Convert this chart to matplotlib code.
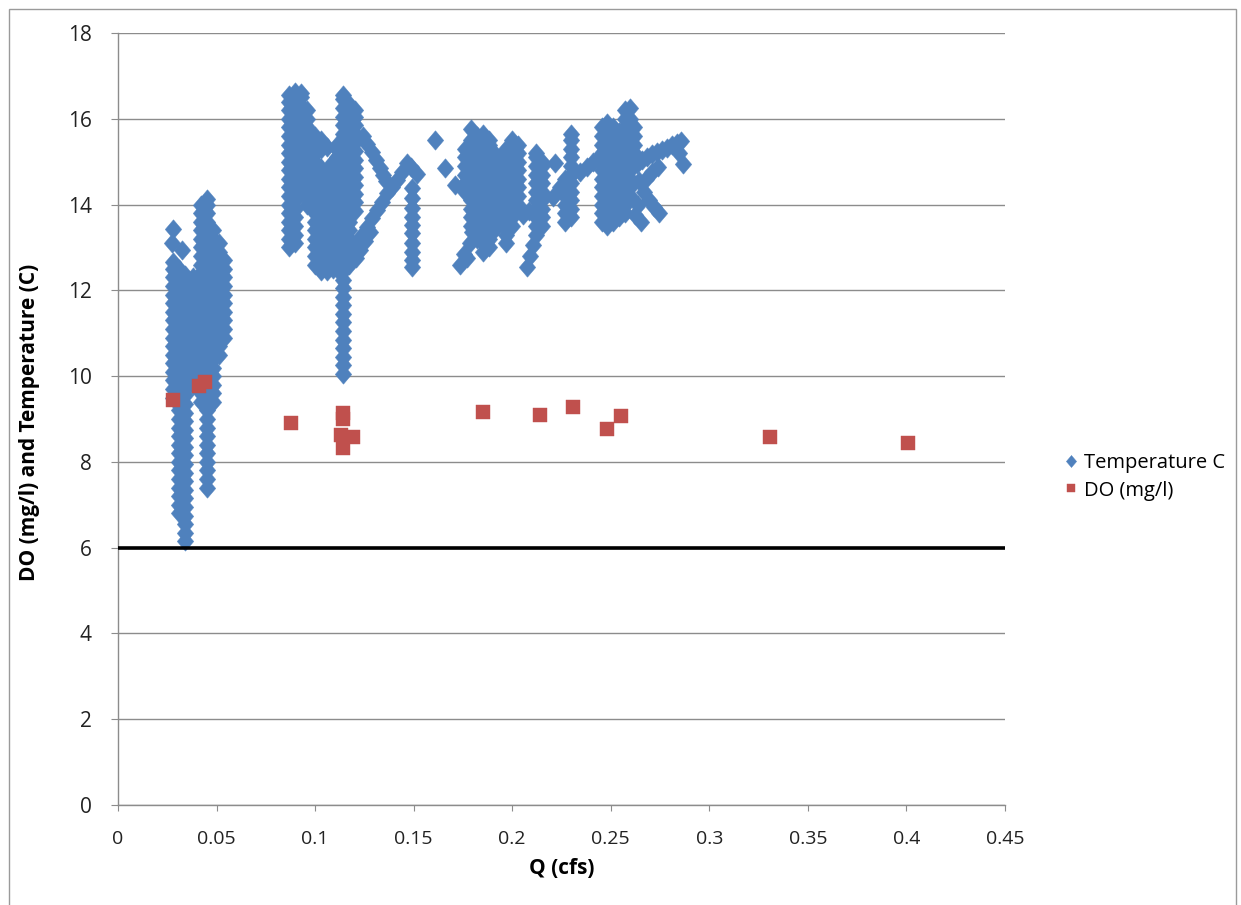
import matplotlib
matplotlib.use("Agg")
import matplotlib.pyplot as plt
from matplotlib.patches import Rectangle

# temperature readings grouped by flow (Q is logged in coarse steps)
low_q = [0.028, 0.031, 0.034, 0.038, 0.042, 0.045, 0.048, 0.051, 0.054]
low_temps = [
    [9.5, 9.7, 9.9, 10.1, 10.3, 10.5, 10.7, 10.9, 11.1, 11.3, 11.5, 11.7, 11.9, 12.1, 12.3, 12.5, 12.65],
    [6.8, 7.0, 7.2, 7.4, 7.6, 7.8, 8.0, 8.2, 8.4, 8.6, 8.8, 9.0, 9.2, 9.4, 9.6, 9.8, 10.0, 10.2, 10.4,
     10.6, 10.8, 11.0, 11.2, 11.4, 11.6, 11.8, 12.0, 12.2, 12.4, 12.5],
    [6.15, 6.35, 6.55, 6.75, 6.95, 7.15, 7.35, 7.55, 7.75, 7.95, 8.15, 8.35, 8.55, 8.75, 8.95, 9.15,
     9.35, 9.55, 9.75, 9.95, 10.15, 10.35, 10.55, 10.75, 10.95, 11.15, 11.35, 11.55, 11.75, 11.95,
     12.15, 12.35],
    [9.8, 10.0, 10.2, 10.4, 10.6, 10.8, 11.0, 11.2, 11.4, 11.6, 11.8, 12.0, 12.2, 12.3],
    [9.4, 9.6, 9.8, 10.0, 10.2, 10.4, 10.6, 10.8, 11.0, 11.2, 11.4, 11.6, 11.8, 12.0, 12.2, 12.4, 12.6,
     12.8, 13.0, 13.2, 13.4, 13.6, 13.8, 14.0],
    [7.4, 7.6, 7.8, 8.0, 8.2, 8.4, 8.6, 8.8, 9.0, 9.2, 9.4, 9.6, 9.8, 10.0, 10.2, 10.4, 10.6, 10.8,
     11.0, 11.2, 11.4, 11.6, 11.8, 12.0, 12.2, 12.4, 12.6, 12.8, 13.0, 13.2, 13.4, 13.6, 13.8, 14.0, 14.12],
    [9.4, 9.6, 9.8, 10.0, 10.2, 10.4, 10.6, 10.8, 11.0, 11.2, 11.4, 11.6, 11.8, 12.0, 12.2, 12.4, 12.6,
     12.8, 13.0, 13.2, 13.4],
    [10.5, 10.7, 10.9, 11.1, 11.3, 11.5, 11.7, 11.9, 12.1, 12.3, 12.5, 12.7, 12.9, 13.1],
    [10.9, 11.1, 11.3, 11.5, 11.7, 11.9, 12.1, 12.3, 12.5, 12.7],
]
low_extra_q = [0.0272, 0.0277, 0.0326]
low_extra_temps = [13.1, 13.42, 12.95]

mid_q = [0.087, 0.090, 0.093, 0.096, 0.100, 0.103, 0.106, 0.109, 0.111, 0.114, 0.117, 0.120]
mid_temps = [
    [13.0, 13.2, 13.4, 13.6, 13.8, 14.0, 14.2, 14.4, 14.6, 14.8, 15.0, 15.2, 15.4, 15.6, 15.8, 16.0,
     16.2, 16.4, 16.55],
    [13.1, 13.3, 13.5, 13.7, 13.9, 14.1, 14.3, 14.5, 14.7, 14.9, 15.1, 15.3, 15.5, 15.7, 15.9, 16.1,
     16.3, 16.5, 16.62],
    [14.3, 14.5, 14.7, 14.9, 15.1, 15.3, 15.5, 15.7, 15.9, 16.1, 16.3, 16.5, 16.6],
    [14.0, 14.2, 14.4, 14.6, 14.8, 15.0, 15.2, 15.4, 15.6, 15.8, 16.0, 16.2],
    [12.6, 12.8, 13.0, 13.2, 13.4, 13.6, 13.8, 14.0, 14.2, 14.4, 14.6, 14.8, 15.0, 15.2, 15.4, 15.6],
    [12.45, 12.65, 12.85, 13.05, 13.25, 13.45, 13.65, 13.85, 14.05, 14.25, 14.45, 14.65, 14.85, 15.3, 15.5],
    [12.45, 12.65, 12.85, 13.05, 13.25, 13.45, 13.65, 13.85, 14.05, 14.25, 14.45, 14.65, 14.8, 15.35],
    [12.5, 12.7, 12.9, 13.1, 13.3, 13.5, 13.7, 13.9, 14.1, 14.3, 14.5, 14.7, 14.9, 15.0],
    [12.5, 12.7, 12.9, 13.1, 13.3, 13.5, 13.7, 13.9, 14.1, 14.3, 14.5, 14.7, 14.9, 15.1, 15.3, 15.4],
    [10.05, 10.25, 10.45, 10.65, 10.85, 11.05, 11.25, 11.45, 11.65, 11.85, 12.05, 12.25, 12.45, 12.65,
     12.85, 13.05, 13.25, 13.45, 13.65, 13.85, 14.05, 14.25, 14.45, 14.65, 14.85, 15.05, 15.25, 15.45,
     15.65, 15.85, 16.05, 16.25, 16.45, 16.55],
    [12.6, 12.8, 13.0, 13.2, 13.4, 13.6, 13.8, 14.0, 14.2, 14.4, 14.6, 14.8, 15.0, 15.2, 15.4, 15.6,
     15.8, 16.0, 16.2, 16.35],
    [13.85, 14.05, 14.25, 14.45, 14.65, 14.85, 15.05, 15.25, 15.45, 15.65, 15.85, 16.05, 16.2],
]
mid_extra_q = [0.1185, 0.121, 0.1236, 0.1261, 0.1287, 0.1312, 0.1337, 0.1363, 0.1388, 0.1413, 0.1439,
               0.1464, 0.1489, 0.1515, 0.1205, 0.123, 0.1255, 0.128,
               0.1244, 0.1264, 0.1287, 0.1308, 0.1329, 0.1345, 0.1362,
               0.149, 0.149, 0.149, 0.149, 0.149, 0.149, 0.149, 0.149, 0.149, 0.149,
               0.1607, 0.1658, 0.1709]
mid_extra_temps = [12.9, 13.1, 13.29, 13.48, 13.68, 13.87, 14.06, 14.26, 14.41, 14.57, 14.76,
                   14.96, 14.88, 14.72, 12.75, 12.95, 13.15, 13.35,
                   15.6, 15.42, 15.22, 15.03, 14.85, 14.7, 14.55,
                   14.38, 14.15, 13.92, 13.71, 13.52, 13.33, 13.1, 12.89, 12.7, 12.55,
                   15.5, 14.86, 14.45]

high_q = [0.176, 0.179, 0.182, 0.185, 0.188, 0.191, 0.194, 0.197, 0.200, 0.203, 0.212, 0.215,
          0.227, 0.230, 0.2455, 0.248, 0.251, 0.254, 0.257, 0.2595, 0.262]
high_temps = [
    [14.3, 14.5, 14.7, 14.9, 15.1, 15.3],
    [13.5, 13.7, 13.9, 14.1, 14.3, 14.5, 14.7, 14.9, 15.1, 15.3, 15.5, 15.75],
    [13.2, 13.4, 13.6, 13.8, 14.0, 14.2, 14.4, 14.6, 14.8, 15.0, 15.2, 15.4, 15.6],
    [12.9, 13.1, 13.3, 13.5, 13.7, 13.9, 14.1, 14.3, 14.5, 14.7, 14.9, 15.1, 15.3, 15.5, 15.65],
    [13.0, 13.2, 13.4, 13.6, 13.8, 14.0, 14.2, 14.4, 14.6, 14.8, 15.0, 15.2, 15.4, 15.5],
    [13.4, 13.6, 13.8, 14.0, 14.2, 14.4, 14.6, 14.8, 15.0, 15.2],
    [13.6, 13.8, 14.0, 14.2, 14.4, 14.6, 14.8, 15.0],
    [13.1, 13.3, 13.5, 13.7, 13.9, 14.1, 14.3, 14.5, 14.7, 14.9, 15.1, 15.3],
    [13.5, 13.7, 13.9, 14.1, 14.3, 14.5, 14.7, 14.9, 15.1, 15.3, 15.5],
    [14.0, 14.2, 14.4, 14.6, 14.8, 15.0, 15.2, 15.4],
    [13.3, 13.5, 13.7, 13.9, 14.1, 14.3, 14.5, 14.7, 14.9, 15.1, 15.2],
    [13.5, 13.7, 13.9, 14.1, 14.3, 14.5, 14.7, 14.9, 15.0],
    [13.6, 13.8, 14.0, 14.2, 14.4, 14.6],
    [13.7, 13.9, 14.1, 14.3, 14.5, 14.7, 14.9, 15.1, 15.3, 15.5, 15.65],
    [13.6, 13.8, 14.0, 14.2, 14.4, 14.6, 14.8, 15.0, 15.2, 15.4, 15.6, 15.8],
    [13.5, 13.7, 13.9, 14.1, 14.3, 14.5, 14.7, 14.9, 15.1, 15.3, 15.5, 15.7, 15.9],
    [13.6, 13.8, 14.0, 14.2, 14.4, 14.6, 14.8, 15.0, 15.2, 15.4, 15.6, 15.8],
    [13.7, 13.9, 14.1, 14.3, 14.5, 14.7, 14.9, 15.1, 15.3, 15.5, 15.7],
    [13.8, 14.0, 14.2, 14.4, 14.6, 14.8, 15.0, 15.2, 15.4, 15.6, 15.8, 16.0, 16.2],
    [14.2, 14.4, 14.6, 14.8, 15.0, 15.2, 15.4, 15.6, 15.8, 16.0, 16.25],
    [15.0, 15.2, 15.4, 15.6, 15.8],
]
high_extra_q = [0.1735, 0.1755, 0.177, 0.1785, 0.1795,
                0.2075, 0.209, 0.2105, 0.2055, 0.2085,
                0.2207, 0.2241, 0.2216, 0.2343, 0.2377, 0.241, 0.2444,
                0.2635, 0.266, 0.2685, 0.271, 0.2735, 0.276, 0.2785, 0.281, 0.2835, 0.2855, 0.2845, 0.2867,
                0.2645, 0.267, 0.2695, 0.272, 0.2745, 0.264, 0.2625, 0.2655, 0.268, 0.271, 0.274]
high_extra_temps = [12.6, 12.85, 12.75, 13.1, 13.35,
                    12.55, 12.8, 13.05, 13.75, 13.85,
                    14.18, 14.41, 14.96, 14.76, 14.88, 15.0, 15.11,
                    14.95, 15.05, 15.1, 15.17, 15.22, 15.28, 15.33, 15.38, 15.44, 15.48, 15.2, 14.95,
                    14.55, 14.3, 14.1, 13.95, 13.8, 14.0, 13.75, 13.6, 14.6, 14.75, 14.88]

# dissolved oxygen grab samples
do_q = [0.028, 0.041, 0.044, 0.088, 0.114, 0.114, 0.113, 0.119, 0.114, 0.185, 0.214, 0.231,
        0.248, 0.255, 0.331, 0.401]
do_mg = [9.45, 9.77, 9.86, 8.9, 9.15, 9.0, 8.62, 8.57, 8.32, 9.16, 9.09, 9.28, 8.76, 9.07, 8.58, 8.45]

do_standard = 6
q_range = [0, 0.45]

x_ticks = [0, 0.05, 0.1, 0.15, 0.2, 0.25, 0.3, 0.35, 0.4, 0.45]
x_tick_labels = ['0', '0.05', '0.1', '0.15', '0.2', '0.25', '0.3', '0.35', '0.4', '0.45']
y_ticks = [0, 2, 4, 6, 8, 10, 12, 14, 16, 18]

BLUE = '#4F81BD'
RED = '#C0504D'
GRID = '#8C8C8C'
FONT = 'Open Sans'
DIAMOND = [(0, 1), (0.85, 0), (0, -1), (-0.85, 0), (0, 1)]


def flatten(qs, temps):
    xs, ys = [], []
    for q, col in zip(qs, temps):
        xs += [q] * len(col)
        ys += col
    return xs, ys


def main():
    fig = plt.figure(figsize=(12.41, 9.05), dpi=100)
    fig.add_artist(Rectangle((9 / 1241, -0.01), 1227 / 1241, 1 - 9 / 905 + 0.01,
                             transform=fig.transFigure, fill=False, ec='#9A9A9A', lw=1))
    ax = fig.add_axes([118 / 1241, 100 / 905, 887 / 1241, 772 / 905])

    tq, tc = [], []
    for qs, temps in [(low_q, low_temps), (mid_q, mid_temps), (high_q, high_temps)]:
        xs, ys = flatten(qs, temps)
        tq += xs
        tc += ys
    tq += low_extra_q + mid_extra_q + high_extra_q
    tc += low_extra_temps + mid_extra_temps + high_extra_temps

    temp_line, = ax.plot(tq, tc, ls='none', marker=DIAMOND, ms=14, color=BLUE, mec=BLUE,
                         mew=0.3, zorder=3, label='Temperature C')
    do_line, = ax.plot(do_q, do_mg, ls='none', marker='s', ms=10, color=RED, mec=RED,
                       mew=0.3, zorder=4, label='DO (mg/l)')
    ax.plot(q_range, [do_standard, do_standard], color='black', lw=2.6, zorder=5,
            solid_capstyle='butt')

    ax.set_xlim(0, 0.45)
    ax.set_ylim(0, 18)
    ax.set_xticks(x_ticks)
    ax.set_xticklabels(x_tick_labels)
    ax.set_yticks(y_ticks)
    ax.grid(axis='y', color=GRID, lw=1)
    ax.set_axisbelow(True)
    for side in ['top', 'right']:
        ax.spines[side].set_visible(False)
    for side in ['left', 'bottom']:
        ax.spines[side].set_color(GRID)
        ax.spines[side].set_linewidth(1)
    ax.tick_params(axis='x', length=4, color=GRID, pad=14, labelsize=14)
    ax.tick_params(axis='y', length=5, color=GRID, pad=14, labelsize=15)
    for lab in ax.get_xticklabels() + ax.get_yticklabels():
        lab.set_fontfamily(FONT)
        lab.set_color('#222222')

    fig.text(562 / 1241, 1 - 868 / 905, 'Q (cfs)', ha='center', va='center',
             fontsize=15, fontweight='bold', family=FONT)
    fig.text(30 / 1241, 1 - 422 / 905, 'DO (mg/l) and Temperature (C)', ha='center',
             va='center', rotation=90, fontsize=15, fontweight='bold', family=FONT)

    fig.legend([temp_line, do_line], ['Temperature C', 'DO (mg/l)'], loc='center left',
               bbox_to_anchor=(1046 / 1241, 1 - 477 / 905), frameon=False,
               prop={'family': FONT, 'size': 14.5}, handlelength=0.7, handletextpad=0.3,
               labelspacing=0.35, markerscale=0.62)

    fig.savefig('out.png', dpi=100)


if __name__ == '__main__':
    main()
